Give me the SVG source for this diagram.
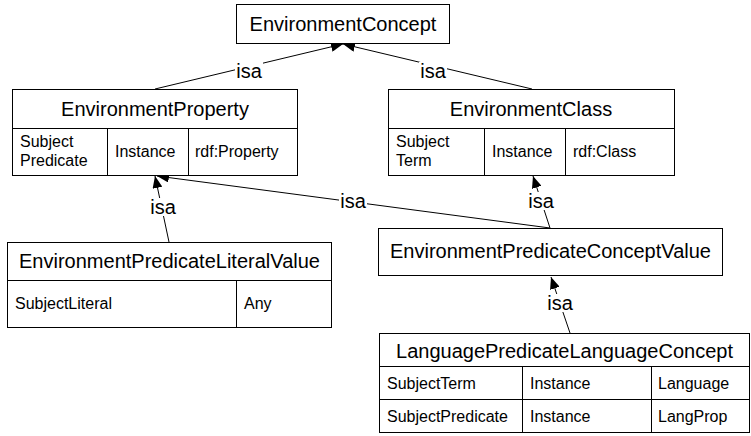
<svg xmlns="http://www.w3.org/2000/svg" width="751" height="436" viewBox="0 0 751 436">
<style>
.box{fill:#fff;stroke:#000;stroke-width:1}
.div{stroke:#000;stroke-width:1;fill:none}
.t{font-family:"Liberation Sans",Arial,sans-serif;font-size:20px;fill:#000}
.c{font-family:"Liberation Sans",Arial,sans-serif;font-size:16px;fill:#000}
.mid{text-anchor:middle}
.edge{stroke:#000;stroke-width:1;fill:none;marker-end:url(#ah)}
.lb{fill:#fff;stroke:none}
</style>
<defs>
<marker id="ah" markerUnits="userSpaceOnUse" markerWidth="14" markerHeight="10" refX="12" refY="5" orient="auto">
<path d="M0,0 L12,5 L0,10 z" fill="#000"/>
</marker>
</defs>
<g id="connectors">
<line class="edge" x1="155" y1="89" x2="343" y2="44"/>
<line class="edge" x1="532" y1="89" x2="343" y2="44"/>
<line class="edge" x1="169" y1="242" x2="155" y2="176"/>
<line class="edge" x1="550" y1="228" x2="157" y2="176"/>
<line class="edge" x1="550" y1="228" x2="533" y2="176"/>
<line class="edge" x1="570" y1="333" x2="551" y2="277"/>
<rect class="lb" x="235" y="62" width="28" height="18"/>
<text class="t mid" x="249" y="78">isa</text>
<rect class="lb" x="419" y="62" width="28" height="18"/>
<text class="t mid" x="433" y="78">isa</text>
<rect class="lb" x="149" y="198" width="28" height="18"/>
<text class="t mid" x="163" y="214">isa</text>
<rect class="lb" x="339" y="192" width="28" height="18"/>
<text class="t mid" x="353" y="208">isa</text>
<rect class="lb" x="527" y="192" width="28" height="18"/>
<text class="t mid" x="541" y="208">isa</text>
<rect class="lb" x="546" y="294" width="28" height="18"/>
<text class="t mid" x="560" y="310">isa</text>
</g>
<g id="EnvironmentConcept">
<rect class="box" x="236.5" y="4.5" width="213" height="39"/>
<text class="t mid" x="343" y="31">EnvironmentConcept</text>
</g>
<g id="EnvironmentProperty">
<rect class="box" x="12.5" y="89.5" width="285" height="86"/>
<path class="div" d="M12.5,128.5 H297.5 M107.5,128.5 V175.5 M188.5,128.5 V175.5"/>
<text class="t mid" x="155" y="116">EnvironmentProperty</text>
<text class="c" x="20" y="147">Subject</text>
<text class="c" x="20" y="166">Predicate</text>
<text class="c" x="115" y="157">Instance</text>
<text class="c" x="195" y="157">rdf:Property</text>
</g>
<g id="EnvironmentClass">
<rect class="box" x="388.5" y="89.5" width="286" height="86"/>
<path class="div" d="M388.5,128.5 H674.5 M484.5,128.5 V175.5 M565.5,128.5 V175.5"/>
<text class="t mid" x="531" y="116">EnvironmentClass</text>
<text class="c" x="396" y="147">Subject</text>
<text class="c" x="396" y="166">Term</text>
<text class="c" x="492" y="157">Instance</text>
<text class="c" x="573" y="157">rdf:Class</text>
</g>
<g id="EnvironmentPredicateLiteralValue">
<rect class="box" x="7.5" y="242.5" width="324" height="85"/>
<path class="div" d="M7.5,280.5 H331.5 M236.5,280.5 V327.5"/>
<text class="t mid" x="169.5" y="268">EnvironmentPredicateLiteralValue</text>
<text class="c" x="15" y="309">SubjectLiteral</text>
<text class="c" x="244" y="309">Any</text>
</g>
<g id="EnvironmentPredicateConceptValue">
<rect class="box" x="378.5" y="228.5" width="344" height="47"/>
<text class="t mid" x="550.5" y="258">EnvironmentPredicateConceptValue</text>
</g>
<g id="LanguagePredicateLanguageConcept">
<rect class="box" x="379.5" y="333.5" width="370" height="99"/>
<path class="div" d="M379.5,366.5 H749.5 M379.5,399.5 H749.5 M522.5,366.5 V432.5 M651.5,366.5 V432.5"/>
<text class="t mid" x="564.5" y="358">LanguagePredicateLanguageConcept</text>
<text class="c" x="387" y="389">SubjectTerm</text>
<text class="c" x="530" y="389">Instance</text>
<text class="c" x="658" y="389">Language</text>
<text class="c" x="387" y="422">SubjectPredicate</text>
<text class="c" x="530" y="422">Instance</text>
<text class="c" x="658" y="422">LangProp</text>
</g>
</svg>
